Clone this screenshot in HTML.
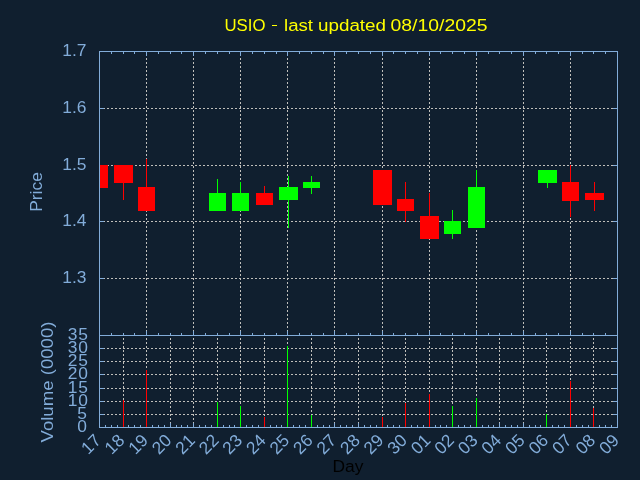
<!DOCTYPE html>
<html><head><meta charset="utf-8"><style>
html,body{margin:0;padding:0;background:#101f2f;width:640px;height:480px;overflow:hidden;}
svg{position:absolute;left:0;top:0;will-change:transform;}
.t{font-family:"Liberation Sans", sans-serif;font-size:17.4px;}
</style></head><body>
<svg width="640" height="480" viewBox="0 0 640 480">
<rect x="0" y="0" width="640" height="480" fill="#101f2f"/>
<g shape-rendering="crispEdges">
<path fill="#c0bfbb" d="M100 108h1v1h-1zM103 108h2v1h-2zM107 108h2v1h-2zM111 108h2v1h-2zM115 108h2v1h-2zM119 108h2v1h-2zM123 108h2v1h-2zM127 108h2v1h-2zM131 108h2v1h-2zM135 108h2v1h-2zM139 108h2v1h-2zM143 108h2v1h-2zM147 108h2v1h-2zM151 108h2v1h-2zM155 108h2v1h-2zM159 108h2v1h-2zM163 108h2v1h-2zM167 108h2v1h-2zM171 108h2v1h-2zM175 108h2v1h-2zM179 108h2v1h-2zM183 108h2v1h-2zM187 108h2v1h-2zM191 108h2v1h-2zM195 108h2v1h-2zM199 108h2v1h-2zM203 108h2v1h-2zM207 108h2v1h-2zM211 108h2v1h-2zM215 108h2v1h-2zM219 108h2v1h-2zM223 108h2v1h-2zM227 108h2v1h-2zM231 108h2v1h-2zM235 108h2v1h-2zM239 108h2v1h-2zM243 108h2v1h-2zM247 108h2v1h-2zM251 108h2v1h-2zM255 108h2v1h-2zM259 108h2v1h-2zM263 108h2v1h-2zM267 108h2v1h-2zM271 108h2v1h-2zM275 108h2v1h-2zM279 108h2v1h-2zM283 108h2v1h-2zM287 108h2v1h-2zM291 108h2v1h-2zM295 108h2v1h-2zM299 108h2v1h-2zM303 108h2v1h-2zM307 108h2v1h-2zM311 108h2v1h-2zM315 108h2v1h-2zM319 108h2v1h-2zM323 108h2v1h-2zM327 108h2v1h-2zM331 108h2v1h-2zM335 108h2v1h-2zM339 108h2v1h-2zM343 108h2v1h-2zM347 108h2v1h-2zM351 108h2v1h-2zM355 108h2v1h-2zM359 108h2v1h-2zM363 108h2v1h-2zM367 108h2v1h-2zM371 108h2v1h-2zM375 108h2v1h-2zM379 108h2v1h-2zM383 108h2v1h-2zM387 108h2v1h-2zM391 108h2v1h-2zM395 108h2v1h-2zM399 108h2v1h-2zM403 108h2v1h-2zM407 108h2v1h-2zM411 108h2v1h-2zM415 108h2v1h-2zM419 108h2v1h-2zM423 108h2v1h-2zM427 108h2v1h-2zM431 108h2v1h-2zM435 108h2v1h-2zM439 108h2v1h-2zM443 108h2v1h-2zM447 108h2v1h-2zM451 108h2v1h-2zM455 108h2v1h-2zM459 108h2v1h-2zM463 108h2v1h-2zM467 108h2v1h-2zM471 108h2v1h-2zM475 108h2v1h-2zM479 108h2v1h-2zM483 108h2v1h-2zM487 108h2v1h-2zM491 108h2v1h-2zM495 108h2v1h-2zM499 108h2v1h-2zM503 108h2v1h-2zM507 108h2v1h-2zM511 108h2v1h-2zM515 108h2v1h-2zM519 108h2v1h-2zM523 108h2v1h-2zM527 108h2v1h-2zM531 108h2v1h-2zM535 108h2v1h-2zM539 108h2v1h-2zM543 108h2v1h-2zM547 108h2v1h-2zM551 108h2v1h-2zM555 108h2v1h-2zM559 108h2v1h-2zM563 108h2v1h-2zM567 108h2v1h-2zM571 108h2v1h-2zM575 108h2v1h-2zM579 108h2v1h-2zM583 108h2v1h-2zM587 108h2v1h-2zM591 108h2v1h-2zM595 108h2v1h-2zM599 108h2v1h-2zM603 108h2v1h-2zM607 108h2v1h-2zM611 108h2v1h-2zM615 108h2v1h-2zM100 165h1v1h-1zM103 165h2v1h-2zM107 165h2v1h-2zM111 165h2v1h-2zM115 165h2v1h-2zM119 165h2v1h-2zM123 165h2v1h-2zM127 165h2v1h-2zM131 165h2v1h-2zM135 165h2v1h-2zM139 165h2v1h-2zM143 165h2v1h-2zM147 165h2v1h-2zM151 165h2v1h-2zM155 165h2v1h-2zM159 165h2v1h-2zM163 165h2v1h-2zM167 165h2v1h-2zM171 165h2v1h-2zM175 165h2v1h-2zM179 165h2v1h-2zM183 165h2v1h-2zM187 165h2v1h-2zM191 165h2v1h-2zM195 165h2v1h-2zM199 165h2v1h-2zM203 165h2v1h-2zM207 165h2v1h-2zM211 165h2v1h-2zM215 165h2v1h-2zM219 165h2v1h-2zM223 165h2v1h-2zM227 165h2v1h-2zM231 165h2v1h-2zM235 165h2v1h-2zM239 165h2v1h-2zM243 165h2v1h-2zM247 165h2v1h-2zM251 165h2v1h-2zM255 165h2v1h-2zM259 165h2v1h-2zM263 165h2v1h-2zM267 165h2v1h-2zM271 165h2v1h-2zM275 165h2v1h-2zM279 165h2v1h-2zM283 165h2v1h-2zM287 165h2v1h-2zM291 165h2v1h-2zM295 165h2v1h-2zM299 165h2v1h-2zM303 165h2v1h-2zM307 165h2v1h-2zM311 165h2v1h-2zM315 165h2v1h-2zM319 165h2v1h-2zM323 165h2v1h-2zM327 165h2v1h-2zM331 165h2v1h-2zM335 165h2v1h-2zM339 165h2v1h-2zM343 165h2v1h-2zM347 165h2v1h-2zM351 165h2v1h-2zM355 165h2v1h-2zM359 165h2v1h-2zM363 165h2v1h-2zM367 165h2v1h-2zM371 165h2v1h-2zM375 165h2v1h-2zM379 165h2v1h-2zM383 165h2v1h-2zM387 165h2v1h-2zM391 165h2v1h-2zM395 165h2v1h-2zM399 165h2v1h-2zM403 165h2v1h-2zM407 165h2v1h-2zM411 165h2v1h-2zM415 165h2v1h-2zM419 165h2v1h-2zM423 165h2v1h-2zM427 165h2v1h-2zM431 165h2v1h-2zM435 165h2v1h-2zM439 165h2v1h-2zM443 165h2v1h-2zM447 165h2v1h-2zM451 165h2v1h-2zM455 165h2v1h-2zM459 165h2v1h-2zM463 165h2v1h-2zM467 165h2v1h-2zM471 165h2v1h-2zM475 165h2v1h-2zM479 165h2v1h-2zM483 165h2v1h-2zM487 165h2v1h-2zM491 165h2v1h-2zM495 165h2v1h-2zM499 165h2v1h-2zM503 165h2v1h-2zM507 165h2v1h-2zM511 165h2v1h-2zM515 165h2v1h-2zM519 165h2v1h-2zM523 165h2v1h-2zM527 165h2v1h-2zM531 165h2v1h-2zM535 165h2v1h-2zM539 165h2v1h-2zM543 165h2v1h-2zM547 165h2v1h-2zM551 165h2v1h-2zM555 165h2v1h-2zM559 165h2v1h-2zM563 165h2v1h-2zM567 165h2v1h-2zM571 165h2v1h-2zM575 165h2v1h-2zM579 165h2v1h-2zM583 165h2v1h-2zM587 165h2v1h-2zM591 165h2v1h-2zM595 165h2v1h-2zM599 165h2v1h-2zM603 165h2v1h-2zM607 165h2v1h-2zM611 165h2v1h-2zM615 165h2v1h-2zM100 221h1v1h-1zM103 221h2v1h-2zM107 221h2v1h-2zM111 221h2v1h-2zM115 221h2v1h-2zM119 221h2v1h-2zM123 221h2v1h-2zM127 221h2v1h-2zM131 221h2v1h-2zM135 221h2v1h-2zM139 221h2v1h-2zM143 221h2v1h-2zM147 221h2v1h-2zM151 221h2v1h-2zM155 221h2v1h-2zM159 221h2v1h-2zM163 221h2v1h-2zM167 221h2v1h-2zM171 221h2v1h-2zM175 221h2v1h-2zM179 221h2v1h-2zM183 221h2v1h-2zM187 221h2v1h-2zM191 221h2v1h-2zM195 221h2v1h-2zM199 221h2v1h-2zM203 221h2v1h-2zM207 221h2v1h-2zM211 221h2v1h-2zM215 221h2v1h-2zM219 221h2v1h-2zM223 221h2v1h-2zM227 221h2v1h-2zM231 221h2v1h-2zM235 221h2v1h-2zM239 221h2v1h-2zM243 221h2v1h-2zM247 221h2v1h-2zM251 221h2v1h-2zM255 221h2v1h-2zM259 221h2v1h-2zM263 221h2v1h-2zM267 221h2v1h-2zM271 221h2v1h-2zM275 221h2v1h-2zM279 221h2v1h-2zM283 221h2v1h-2zM287 221h2v1h-2zM291 221h2v1h-2zM295 221h2v1h-2zM299 221h2v1h-2zM303 221h2v1h-2zM307 221h2v1h-2zM311 221h2v1h-2zM315 221h2v1h-2zM319 221h2v1h-2zM323 221h2v1h-2zM327 221h2v1h-2zM331 221h2v1h-2zM335 221h2v1h-2zM339 221h2v1h-2zM343 221h2v1h-2zM347 221h2v1h-2zM351 221h2v1h-2zM355 221h2v1h-2zM359 221h2v1h-2zM363 221h2v1h-2zM367 221h2v1h-2zM371 221h2v1h-2zM375 221h2v1h-2zM379 221h2v1h-2zM383 221h2v1h-2zM387 221h2v1h-2zM391 221h2v1h-2zM395 221h2v1h-2zM399 221h2v1h-2zM403 221h2v1h-2zM407 221h2v1h-2zM411 221h2v1h-2zM415 221h2v1h-2zM419 221h2v1h-2zM423 221h2v1h-2zM427 221h2v1h-2zM431 221h2v1h-2zM435 221h2v1h-2zM439 221h2v1h-2zM443 221h2v1h-2zM447 221h2v1h-2zM451 221h2v1h-2zM455 221h2v1h-2zM459 221h2v1h-2zM463 221h2v1h-2zM467 221h2v1h-2zM471 221h2v1h-2zM475 221h2v1h-2zM479 221h2v1h-2zM483 221h2v1h-2zM487 221h2v1h-2zM491 221h2v1h-2zM495 221h2v1h-2zM499 221h2v1h-2zM503 221h2v1h-2zM507 221h2v1h-2zM511 221h2v1h-2zM515 221h2v1h-2zM519 221h2v1h-2zM523 221h2v1h-2zM527 221h2v1h-2zM531 221h2v1h-2zM535 221h2v1h-2zM539 221h2v1h-2zM543 221h2v1h-2zM547 221h2v1h-2zM551 221h2v1h-2zM555 221h2v1h-2zM559 221h2v1h-2zM563 221h2v1h-2zM567 221h2v1h-2zM571 221h2v1h-2zM575 221h2v1h-2zM579 221h2v1h-2zM583 221h2v1h-2zM587 221h2v1h-2zM591 221h2v1h-2zM595 221h2v1h-2zM599 221h2v1h-2zM603 221h2v1h-2zM607 221h2v1h-2zM611 221h2v1h-2zM615 221h2v1h-2zM100 278h1v1h-1zM103 278h2v1h-2zM107 278h2v1h-2zM111 278h2v1h-2zM115 278h2v1h-2zM119 278h2v1h-2zM123 278h2v1h-2zM127 278h2v1h-2zM131 278h2v1h-2zM135 278h2v1h-2zM139 278h2v1h-2zM143 278h2v1h-2zM147 278h2v1h-2zM151 278h2v1h-2zM155 278h2v1h-2zM159 278h2v1h-2zM163 278h2v1h-2zM167 278h2v1h-2zM171 278h2v1h-2zM175 278h2v1h-2zM179 278h2v1h-2zM183 278h2v1h-2zM187 278h2v1h-2zM191 278h2v1h-2zM195 278h2v1h-2zM199 278h2v1h-2zM203 278h2v1h-2zM207 278h2v1h-2zM211 278h2v1h-2zM215 278h2v1h-2zM219 278h2v1h-2zM223 278h2v1h-2zM227 278h2v1h-2zM231 278h2v1h-2zM235 278h2v1h-2zM239 278h2v1h-2zM243 278h2v1h-2zM247 278h2v1h-2zM251 278h2v1h-2zM255 278h2v1h-2zM259 278h2v1h-2zM263 278h2v1h-2zM267 278h2v1h-2zM271 278h2v1h-2zM275 278h2v1h-2zM279 278h2v1h-2zM283 278h2v1h-2zM287 278h2v1h-2zM291 278h2v1h-2zM295 278h2v1h-2zM299 278h2v1h-2zM303 278h2v1h-2zM307 278h2v1h-2zM311 278h2v1h-2zM315 278h2v1h-2zM319 278h2v1h-2zM323 278h2v1h-2zM327 278h2v1h-2zM331 278h2v1h-2zM335 278h2v1h-2zM339 278h2v1h-2zM343 278h2v1h-2zM347 278h2v1h-2zM351 278h2v1h-2zM355 278h2v1h-2zM359 278h2v1h-2zM363 278h2v1h-2zM367 278h2v1h-2zM371 278h2v1h-2zM375 278h2v1h-2zM379 278h2v1h-2zM383 278h2v1h-2zM387 278h2v1h-2zM391 278h2v1h-2zM395 278h2v1h-2zM399 278h2v1h-2zM403 278h2v1h-2zM407 278h2v1h-2zM411 278h2v1h-2zM415 278h2v1h-2zM419 278h2v1h-2zM423 278h2v1h-2zM427 278h2v1h-2zM431 278h2v1h-2zM435 278h2v1h-2zM439 278h2v1h-2zM443 278h2v1h-2zM447 278h2v1h-2zM451 278h2v1h-2zM455 278h2v1h-2zM459 278h2v1h-2zM463 278h2v1h-2zM467 278h2v1h-2zM471 278h2v1h-2zM475 278h2v1h-2zM479 278h2v1h-2zM483 278h2v1h-2zM487 278h2v1h-2zM491 278h2v1h-2zM495 278h2v1h-2zM499 278h2v1h-2zM503 278h2v1h-2zM507 278h2v1h-2zM511 278h2v1h-2zM515 278h2v1h-2zM519 278h2v1h-2zM523 278h2v1h-2zM527 278h2v1h-2zM531 278h2v1h-2zM535 278h2v1h-2zM539 278h2v1h-2zM543 278h2v1h-2zM547 278h2v1h-2zM551 278h2v1h-2zM555 278h2v1h-2zM559 278h2v1h-2zM563 278h2v1h-2zM567 278h2v1h-2zM571 278h2v1h-2zM575 278h2v1h-2zM579 278h2v1h-2zM583 278h2v1h-2zM587 278h2v1h-2zM591 278h2v1h-2zM595 278h2v1h-2zM599 278h2v1h-2zM603 278h2v1h-2zM607 278h2v1h-2zM611 278h2v1h-2zM615 278h2v1h-2zM146 54h1v2h-1zM146 58h1v2h-1zM146 62h1v2h-1zM146 66h1v2h-1zM146 70h1v2h-1zM146 74h1v2h-1zM146 78h1v2h-1zM146 82h1v2h-1zM146 86h1v2h-1zM146 90h1v2h-1zM146 94h1v2h-1zM146 98h1v2h-1zM146 102h1v2h-1zM146 106h1v2h-1zM146 110h1v2h-1zM146 114h1v2h-1zM146 118h1v2h-1zM146 122h1v2h-1zM146 126h1v2h-1zM146 130h1v2h-1zM146 134h1v2h-1zM146 138h1v2h-1zM146 142h1v2h-1zM146 146h1v2h-1zM146 150h1v2h-1zM146 154h1v2h-1zM146 158h1v2h-1zM146 162h1v2h-1zM146 166h1v2h-1zM146 170h1v2h-1zM146 174h1v2h-1zM146 178h1v2h-1zM146 182h1v2h-1zM146 186h1v2h-1zM146 190h1v2h-1zM146 194h1v2h-1zM146 198h1v2h-1zM146 202h1v2h-1zM146 206h1v2h-1zM146 210h1v2h-1zM146 214h1v2h-1zM146 218h1v2h-1zM146 222h1v2h-1zM146 226h1v2h-1zM146 230h1v2h-1zM146 234h1v2h-1zM146 238h1v2h-1zM146 242h1v2h-1zM146 246h1v2h-1zM146 250h1v2h-1zM146 254h1v2h-1zM146 258h1v2h-1zM146 262h1v2h-1zM146 266h1v2h-1zM146 270h1v2h-1zM146 274h1v2h-1zM146 278h1v2h-1zM146 282h1v2h-1zM146 286h1v2h-1zM146 290h1v2h-1zM146 294h1v2h-1zM146 298h1v2h-1zM146 302h1v2h-1zM146 306h1v2h-1zM146 310h1v2h-1zM146 314h1v2h-1zM146 318h1v2h-1zM146 322h1v2h-1zM146 326h1v2h-1zM146 330h1v2h-1zM146 334h1v1h-1zM193 54h1v2h-1zM193 58h1v2h-1zM193 62h1v2h-1zM193 66h1v2h-1zM193 70h1v2h-1zM193 74h1v2h-1zM193 78h1v2h-1zM193 82h1v2h-1zM193 86h1v2h-1zM193 90h1v2h-1zM193 94h1v2h-1zM193 98h1v2h-1zM193 102h1v2h-1zM193 106h1v2h-1zM193 110h1v2h-1zM193 114h1v2h-1zM193 118h1v2h-1zM193 122h1v2h-1zM193 126h1v2h-1zM193 130h1v2h-1zM193 134h1v2h-1zM193 138h1v2h-1zM193 142h1v2h-1zM193 146h1v2h-1zM193 150h1v2h-1zM193 154h1v2h-1zM193 158h1v2h-1zM193 162h1v2h-1zM193 166h1v2h-1zM193 170h1v2h-1zM193 174h1v2h-1zM193 178h1v2h-1zM193 182h1v2h-1zM193 186h1v2h-1zM193 190h1v2h-1zM193 194h1v2h-1zM193 198h1v2h-1zM193 202h1v2h-1zM193 206h1v2h-1zM193 210h1v2h-1zM193 214h1v2h-1zM193 218h1v2h-1zM193 222h1v2h-1zM193 226h1v2h-1zM193 230h1v2h-1zM193 234h1v2h-1zM193 238h1v2h-1zM193 242h1v2h-1zM193 246h1v2h-1zM193 250h1v2h-1zM193 254h1v2h-1zM193 258h1v2h-1zM193 262h1v2h-1zM193 266h1v2h-1zM193 270h1v2h-1zM193 274h1v2h-1zM193 278h1v2h-1zM193 282h1v2h-1zM193 286h1v2h-1zM193 290h1v2h-1zM193 294h1v2h-1zM193 298h1v2h-1zM193 302h1v2h-1zM193 306h1v2h-1zM193 310h1v2h-1zM193 314h1v2h-1zM193 318h1v2h-1zM193 322h1v2h-1zM193 326h1v2h-1zM193 330h1v2h-1zM193 334h1v1h-1zM240 54h1v2h-1zM240 58h1v2h-1zM240 62h1v2h-1zM240 66h1v2h-1zM240 70h1v2h-1zM240 74h1v2h-1zM240 78h1v2h-1zM240 82h1v2h-1zM240 86h1v2h-1zM240 90h1v2h-1zM240 94h1v2h-1zM240 98h1v2h-1zM240 102h1v2h-1zM240 106h1v2h-1zM240 110h1v2h-1zM240 114h1v2h-1zM240 118h1v2h-1zM240 122h1v2h-1zM240 126h1v2h-1zM240 130h1v2h-1zM240 134h1v2h-1zM240 138h1v2h-1zM240 142h1v2h-1zM240 146h1v2h-1zM240 150h1v2h-1zM240 154h1v2h-1zM240 158h1v2h-1zM240 162h1v2h-1zM240 166h1v2h-1zM240 170h1v2h-1zM240 174h1v2h-1zM240 178h1v2h-1zM240 182h1v2h-1zM240 186h1v2h-1zM240 190h1v2h-1zM240 194h1v2h-1zM240 198h1v2h-1zM240 202h1v2h-1zM240 206h1v2h-1zM240 210h1v2h-1zM240 214h1v2h-1zM240 218h1v2h-1zM240 222h1v2h-1zM240 226h1v2h-1zM240 230h1v2h-1zM240 234h1v2h-1zM240 238h1v2h-1zM240 242h1v2h-1zM240 246h1v2h-1zM240 250h1v2h-1zM240 254h1v2h-1zM240 258h1v2h-1zM240 262h1v2h-1zM240 266h1v2h-1zM240 270h1v2h-1zM240 274h1v2h-1zM240 278h1v2h-1zM240 282h1v2h-1zM240 286h1v2h-1zM240 290h1v2h-1zM240 294h1v2h-1zM240 298h1v2h-1zM240 302h1v2h-1zM240 306h1v2h-1zM240 310h1v2h-1zM240 314h1v2h-1zM240 318h1v2h-1zM240 322h1v2h-1zM240 326h1v2h-1zM240 330h1v2h-1zM240 334h1v1h-1zM287 54h1v2h-1zM287 58h1v2h-1zM287 62h1v2h-1zM287 66h1v2h-1zM287 70h1v2h-1zM287 74h1v2h-1zM287 78h1v2h-1zM287 82h1v2h-1zM287 86h1v2h-1zM287 90h1v2h-1zM287 94h1v2h-1zM287 98h1v2h-1zM287 102h1v2h-1zM287 106h1v2h-1zM287 110h1v2h-1zM287 114h1v2h-1zM287 118h1v2h-1zM287 122h1v2h-1zM287 126h1v2h-1zM287 130h1v2h-1zM287 134h1v2h-1zM287 138h1v2h-1zM287 142h1v2h-1zM287 146h1v2h-1zM287 150h1v2h-1zM287 154h1v2h-1zM287 158h1v2h-1zM287 162h1v2h-1zM287 166h1v2h-1zM287 170h1v2h-1zM287 174h1v2h-1zM287 178h1v2h-1zM287 182h1v2h-1zM287 186h1v2h-1zM287 190h1v2h-1zM287 194h1v2h-1zM287 198h1v2h-1zM287 202h1v2h-1zM287 206h1v2h-1zM287 210h1v2h-1zM287 214h1v2h-1zM287 218h1v2h-1zM287 222h1v2h-1zM287 226h1v2h-1zM287 230h1v2h-1zM287 234h1v2h-1zM287 238h1v2h-1zM287 242h1v2h-1zM287 246h1v2h-1zM287 250h1v2h-1zM287 254h1v2h-1zM287 258h1v2h-1zM287 262h1v2h-1zM287 266h1v2h-1zM287 270h1v2h-1zM287 274h1v2h-1zM287 278h1v2h-1zM287 282h1v2h-1zM287 286h1v2h-1zM287 290h1v2h-1zM287 294h1v2h-1zM287 298h1v2h-1zM287 302h1v2h-1zM287 306h1v2h-1zM287 310h1v2h-1zM287 314h1v2h-1zM287 318h1v2h-1zM287 322h1v2h-1zM287 326h1v2h-1zM287 330h1v2h-1zM287 334h1v1h-1zM334 54h1v2h-1zM334 58h1v2h-1zM334 62h1v2h-1zM334 66h1v2h-1zM334 70h1v2h-1zM334 74h1v2h-1zM334 78h1v2h-1zM334 82h1v2h-1zM334 86h1v2h-1zM334 90h1v2h-1zM334 94h1v2h-1zM334 98h1v2h-1zM334 102h1v2h-1zM334 106h1v2h-1zM334 110h1v2h-1zM334 114h1v2h-1zM334 118h1v2h-1zM334 122h1v2h-1zM334 126h1v2h-1zM334 130h1v2h-1zM334 134h1v2h-1zM334 138h1v2h-1zM334 142h1v2h-1zM334 146h1v2h-1zM334 150h1v2h-1zM334 154h1v2h-1zM334 158h1v2h-1zM334 162h1v2h-1zM334 166h1v2h-1zM334 170h1v2h-1zM334 174h1v2h-1zM334 178h1v2h-1zM334 182h1v2h-1zM334 186h1v2h-1zM334 190h1v2h-1zM334 194h1v2h-1zM334 198h1v2h-1zM334 202h1v2h-1zM334 206h1v2h-1zM334 210h1v2h-1zM334 214h1v2h-1zM334 218h1v2h-1zM334 222h1v2h-1zM334 226h1v2h-1zM334 230h1v2h-1zM334 234h1v2h-1zM334 238h1v2h-1zM334 242h1v2h-1zM334 246h1v2h-1zM334 250h1v2h-1zM334 254h1v2h-1zM334 258h1v2h-1zM334 262h1v2h-1zM334 266h1v2h-1zM334 270h1v2h-1zM334 274h1v2h-1zM334 278h1v2h-1zM334 282h1v2h-1zM334 286h1v2h-1zM334 290h1v2h-1zM334 294h1v2h-1zM334 298h1v2h-1zM334 302h1v2h-1zM334 306h1v2h-1zM334 310h1v2h-1zM334 314h1v2h-1zM334 318h1v2h-1zM334 322h1v2h-1zM334 326h1v2h-1zM334 330h1v2h-1zM334 334h1v1h-1zM382 54h1v2h-1zM382 58h1v2h-1zM382 62h1v2h-1zM382 66h1v2h-1zM382 70h1v2h-1zM382 74h1v2h-1zM382 78h1v2h-1zM382 82h1v2h-1zM382 86h1v2h-1zM382 90h1v2h-1zM382 94h1v2h-1zM382 98h1v2h-1zM382 102h1v2h-1zM382 106h1v2h-1zM382 110h1v2h-1zM382 114h1v2h-1zM382 118h1v2h-1zM382 122h1v2h-1zM382 126h1v2h-1zM382 130h1v2h-1zM382 134h1v2h-1zM382 138h1v2h-1zM382 142h1v2h-1zM382 146h1v2h-1zM382 150h1v2h-1zM382 154h1v2h-1zM382 158h1v2h-1zM382 162h1v2h-1zM382 166h1v2h-1zM382 170h1v2h-1zM382 174h1v2h-1zM382 178h1v2h-1zM382 182h1v2h-1zM382 186h1v2h-1zM382 190h1v2h-1zM382 194h1v2h-1zM382 198h1v2h-1zM382 202h1v2h-1zM382 206h1v2h-1zM382 210h1v2h-1zM382 214h1v2h-1zM382 218h1v2h-1zM382 222h1v2h-1zM382 226h1v2h-1zM382 230h1v2h-1zM382 234h1v2h-1zM382 238h1v2h-1zM382 242h1v2h-1zM382 246h1v2h-1zM382 250h1v2h-1zM382 254h1v2h-1zM382 258h1v2h-1zM382 262h1v2h-1zM382 266h1v2h-1zM382 270h1v2h-1zM382 274h1v2h-1zM382 278h1v2h-1zM382 282h1v2h-1zM382 286h1v2h-1zM382 290h1v2h-1zM382 294h1v2h-1zM382 298h1v2h-1zM382 302h1v2h-1zM382 306h1v2h-1zM382 310h1v2h-1zM382 314h1v2h-1zM382 318h1v2h-1zM382 322h1v2h-1zM382 326h1v2h-1zM382 330h1v2h-1zM382 334h1v1h-1zM429 54h1v2h-1zM429 58h1v2h-1zM429 62h1v2h-1zM429 66h1v2h-1zM429 70h1v2h-1zM429 74h1v2h-1zM429 78h1v2h-1zM429 82h1v2h-1zM429 86h1v2h-1zM429 90h1v2h-1zM429 94h1v2h-1zM429 98h1v2h-1zM429 102h1v2h-1zM429 106h1v2h-1zM429 110h1v2h-1zM429 114h1v2h-1zM429 118h1v2h-1zM429 122h1v2h-1zM429 126h1v2h-1zM429 130h1v2h-1zM429 134h1v2h-1zM429 138h1v2h-1zM429 142h1v2h-1zM429 146h1v2h-1zM429 150h1v2h-1zM429 154h1v2h-1zM429 158h1v2h-1zM429 162h1v2h-1zM429 166h1v2h-1zM429 170h1v2h-1zM429 174h1v2h-1zM429 178h1v2h-1zM429 182h1v2h-1zM429 186h1v2h-1zM429 190h1v2h-1zM429 194h1v2h-1zM429 198h1v2h-1zM429 202h1v2h-1zM429 206h1v2h-1zM429 210h1v2h-1zM429 214h1v2h-1zM429 218h1v2h-1zM429 222h1v2h-1zM429 226h1v2h-1zM429 230h1v2h-1zM429 234h1v2h-1zM429 238h1v2h-1zM429 242h1v2h-1zM429 246h1v2h-1zM429 250h1v2h-1zM429 254h1v2h-1zM429 258h1v2h-1zM429 262h1v2h-1zM429 266h1v2h-1zM429 270h1v2h-1zM429 274h1v2h-1zM429 278h1v2h-1zM429 282h1v2h-1zM429 286h1v2h-1zM429 290h1v2h-1zM429 294h1v2h-1zM429 298h1v2h-1zM429 302h1v2h-1zM429 306h1v2h-1zM429 310h1v2h-1zM429 314h1v2h-1zM429 318h1v2h-1zM429 322h1v2h-1zM429 326h1v2h-1zM429 330h1v2h-1zM429 334h1v1h-1zM476 54h1v2h-1zM476 58h1v2h-1zM476 62h1v2h-1zM476 66h1v2h-1zM476 70h1v2h-1zM476 74h1v2h-1zM476 78h1v2h-1zM476 82h1v2h-1zM476 86h1v2h-1zM476 90h1v2h-1zM476 94h1v2h-1zM476 98h1v2h-1zM476 102h1v2h-1zM476 106h1v2h-1zM476 110h1v2h-1zM476 114h1v2h-1zM476 118h1v2h-1zM476 122h1v2h-1zM476 126h1v2h-1zM476 130h1v2h-1zM476 134h1v2h-1zM476 138h1v2h-1zM476 142h1v2h-1zM476 146h1v2h-1zM476 150h1v2h-1zM476 154h1v2h-1zM476 158h1v2h-1zM476 162h1v2h-1zM476 166h1v2h-1zM476 170h1v2h-1zM476 174h1v2h-1zM476 178h1v2h-1zM476 182h1v2h-1zM476 186h1v2h-1zM476 190h1v2h-1zM476 194h1v2h-1zM476 198h1v2h-1zM476 202h1v2h-1zM476 206h1v2h-1zM476 210h1v2h-1zM476 214h1v2h-1zM476 218h1v2h-1zM476 222h1v2h-1zM476 226h1v2h-1zM476 230h1v2h-1zM476 234h1v2h-1zM476 238h1v2h-1zM476 242h1v2h-1zM476 246h1v2h-1zM476 250h1v2h-1zM476 254h1v2h-1zM476 258h1v2h-1zM476 262h1v2h-1zM476 266h1v2h-1zM476 270h1v2h-1zM476 274h1v2h-1zM476 278h1v2h-1zM476 282h1v2h-1zM476 286h1v2h-1zM476 290h1v2h-1zM476 294h1v2h-1zM476 298h1v2h-1zM476 302h1v2h-1zM476 306h1v2h-1zM476 310h1v2h-1zM476 314h1v2h-1zM476 318h1v2h-1zM476 322h1v2h-1zM476 326h1v2h-1zM476 330h1v2h-1zM476 334h1v1h-1zM523 54h1v2h-1zM523 58h1v2h-1zM523 62h1v2h-1zM523 66h1v2h-1zM523 70h1v2h-1zM523 74h1v2h-1zM523 78h1v2h-1zM523 82h1v2h-1zM523 86h1v2h-1zM523 90h1v2h-1zM523 94h1v2h-1zM523 98h1v2h-1zM523 102h1v2h-1zM523 106h1v2h-1zM523 110h1v2h-1zM523 114h1v2h-1zM523 118h1v2h-1zM523 122h1v2h-1zM523 126h1v2h-1zM523 130h1v2h-1zM523 134h1v2h-1zM523 138h1v2h-1zM523 142h1v2h-1zM523 146h1v2h-1zM523 150h1v2h-1zM523 154h1v2h-1zM523 158h1v2h-1zM523 162h1v2h-1zM523 166h1v2h-1zM523 170h1v2h-1zM523 174h1v2h-1zM523 178h1v2h-1zM523 182h1v2h-1zM523 186h1v2h-1zM523 190h1v2h-1zM523 194h1v2h-1zM523 198h1v2h-1zM523 202h1v2h-1zM523 206h1v2h-1zM523 210h1v2h-1zM523 214h1v2h-1zM523 218h1v2h-1zM523 222h1v2h-1zM523 226h1v2h-1zM523 230h1v2h-1zM523 234h1v2h-1zM523 238h1v2h-1zM523 242h1v2h-1zM523 246h1v2h-1zM523 250h1v2h-1zM523 254h1v2h-1zM523 258h1v2h-1zM523 262h1v2h-1zM523 266h1v2h-1zM523 270h1v2h-1zM523 274h1v2h-1zM523 278h1v2h-1zM523 282h1v2h-1zM523 286h1v2h-1zM523 290h1v2h-1zM523 294h1v2h-1zM523 298h1v2h-1zM523 302h1v2h-1zM523 306h1v2h-1zM523 310h1v2h-1zM523 314h1v2h-1zM523 318h1v2h-1zM523 322h1v2h-1zM523 326h1v2h-1zM523 330h1v2h-1zM523 334h1v1h-1zM570 54h1v2h-1zM570 58h1v2h-1zM570 62h1v2h-1zM570 66h1v2h-1zM570 70h1v2h-1zM570 74h1v2h-1zM570 78h1v2h-1zM570 82h1v2h-1zM570 86h1v2h-1zM570 90h1v2h-1zM570 94h1v2h-1zM570 98h1v2h-1zM570 102h1v2h-1zM570 106h1v2h-1zM570 110h1v2h-1zM570 114h1v2h-1zM570 118h1v2h-1zM570 122h1v2h-1zM570 126h1v2h-1zM570 130h1v2h-1zM570 134h1v2h-1zM570 138h1v2h-1zM570 142h1v2h-1zM570 146h1v2h-1zM570 150h1v2h-1zM570 154h1v2h-1zM570 158h1v2h-1zM570 162h1v2h-1zM570 166h1v2h-1zM570 170h1v2h-1zM570 174h1v2h-1zM570 178h1v2h-1zM570 182h1v2h-1zM570 186h1v2h-1zM570 190h1v2h-1zM570 194h1v2h-1zM570 198h1v2h-1zM570 202h1v2h-1zM570 206h1v2h-1zM570 210h1v2h-1zM570 214h1v2h-1zM570 218h1v2h-1zM570 222h1v2h-1zM570 226h1v2h-1zM570 230h1v2h-1zM570 234h1v2h-1zM570 238h1v2h-1zM570 242h1v2h-1zM570 246h1v2h-1zM570 250h1v2h-1zM570 254h1v2h-1zM570 258h1v2h-1zM570 262h1v2h-1zM570 266h1v2h-1zM570 270h1v2h-1zM570 274h1v2h-1zM570 278h1v2h-1zM570 282h1v2h-1zM570 286h1v2h-1zM570 290h1v2h-1zM570 294h1v2h-1zM570 298h1v2h-1zM570 302h1v2h-1zM570 306h1v2h-1zM570 310h1v2h-1zM570 314h1v2h-1zM570 318h1v2h-1zM570 322h1v2h-1zM570 326h1v2h-1zM570 330h1v2h-1zM570 334h1v1h-1zM100 414h1v1h-1zM103 414h2v1h-2zM107 414h2v1h-2zM111 414h2v1h-2zM115 414h2v1h-2zM119 414h2v1h-2zM123 414h2v1h-2zM127 414h2v1h-2zM131 414h2v1h-2zM135 414h2v1h-2zM139 414h2v1h-2zM143 414h2v1h-2zM147 414h2v1h-2zM151 414h2v1h-2zM155 414h2v1h-2zM159 414h2v1h-2zM163 414h2v1h-2zM167 414h2v1h-2zM171 414h2v1h-2zM175 414h2v1h-2zM179 414h2v1h-2zM183 414h2v1h-2zM187 414h2v1h-2zM191 414h2v1h-2zM195 414h2v1h-2zM199 414h2v1h-2zM203 414h2v1h-2zM207 414h2v1h-2zM211 414h2v1h-2zM215 414h2v1h-2zM219 414h2v1h-2zM223 414h2v1h-2zM227 414h2v1h-2zM231 414h2v1h-2zM235 414h2v1h-2zM239 414h2v1h-2zM243 414h2v1h-2zM247 414h2v1h-2zM251 414h2v1h-2zM255 414h2v1h-2zM259 414h2v1h-2zM263 414h2v1h-2zM267 414h2v1h-2zM271 414h2v1h-2zM275 414h2v1h-2zM279 414h2v1h-2zM283 414h2v1h-2zM287 414h2v1h-2zM291 414h2v1h-2zM295 414h2v1h-2zM299 414h2v1h-2zM303 414h2v1h-2zM307 414h2v1h-2zM311 414h2v1h-2zM315 414h2v1h-2zM319 414h2v1h-2zM323 414h2v1h-2zM327 414h2v1h-2zM331 414h2v1h-2zM335 414h2v1h-2zM339 414h2v1h-2zM343 414h2v1h-2zM347 414h2v1h-2zM351 414h2v1h-2zM355 414h2v1h-2zM359 414h2v1h-2zM363 414h2v1h-2zM367 414h2v1h-2zM371 414h2v1h-2zM375 414h2v1h-2zM379 414h2v1h-2zM383 414h2v1h-2zM387 414h2v1h-2zM391 414h2v1h-2zM395 414h2v1h-2zM399 414h2v1h-2zM403 414h2v1h-2zM407 414h2v1h-2zM411 414h2v1h-2zM415 414h2v1h-2zM419 414h2v1h-2zM423 414h2v1h-2zM427 414h2v1h-2zM431 414h2v1h-2zM435 414h2v1h-2zM439 414h2v1h-2zM443 414h2v1h-2zM447 414h2v1h-2zM451 414h2v1h-2zM455 414h2v1h-2zM459 414h2v1h-2zM463 414h2v1h-2zM467 414h2v1h-2zM471 414h2v1h-2zM475 414h2v1h-2zM479 414h2v1h-2zM483 414h2v1h-2zM487 414h2v1h-2zM491 414h2v1h-2zM495 414h2v1h-2zM499 414h2v1h-2zM503 414h2v1h-2zM507 414h2v1h-2zM511 414h2v1h-2zM515 414h2v1h-2zM519 414h2v1h-2zM523 414h2v1h-2zM527 414h2v1h-2zM531 414h2v1h-2zM535 414h2v1h-2zM539 414h2v1h-2zM543 414h2v1h-2zM547 414h2v1h-2zM551 414h2v1h-2zM555 414h2v1h-2zM559 414h2v1h-2zM563 414h2v1h-2zM567 414h2v1h-2zM571 414h2v1h-2zM575 414h2v1h-2zM579 414h2v1h-2zM583 414h2v1h-2zM587 414h2v1h-2zM591 414h2v1h-2zM595 414h2v1h-2zM599 414h2v1h-2zM603 414h2v1h-2zM607 414h2v1h-2zM611 414h2v1h-2zM615 414h2v1h-2zM100 401h1v1h-1zM103 401h2v1h-2zM107 401h2v1h-2zM111 401h2v1h-2zM115 401h2v1h-2zM119 401h2v1h-2zM123 401h2v1h-2zM127 401h2v1h-2zM131 401h2v1h-2zM135 401h2v1h-2zM139 401h2v1h-2zM143 401h2v1h-2zM147 401h2v1h-2zM151 401h2v1h-2zM155 401h2v1h-2zM159 401h2v1h-2zM163 401h2v1h-2zM167 401h2v1h-2zM171 401h2v1h-2zM175 401h2v1h-2zM179 401h2v1h-2zM183 401h2v1h-2zM187 401h2v1h-2zM191 401h2v1h-2zM195 401h2v1h-2zM199 401h2v1h-2zM203 401h2v1h-2zM207 401h2v1h-2zM211 401h2v1h-2zM215 401h2v1h-2zM219 401h2v1h-2zM223 401h2v1h-2zM227 401h2v1h-2zM231 401h2v1h-2zM235 401h2v1h-2zM239 401h2v1h-2zM243 401h2v1h-2zM247 401h2v1h-2zM251 401h2v1h-2zM255 401h2v1h-2zM259 401h2v1h-2zM263 401h2v1h-2zM267 401h2v1h-2zM271 401h2v1h-2zM275 401h2v1h-2zM279 401h2v1h-2zM283 401h2v1h-2zM287 401h2v1h-2zM291 401h2v1h-2zM295 401h2v1h-2zM299 401h2v1h-2zM303 401h2v1h-2zM307 401h2v1h-2zM311 401h2v1h-2zM315 401h2v1h-2zM319 401h2v1h-2zM323 401h2v1h-2zM327 401h2v1h-2zM331 401h2v1h-2zM335 401h2v1h-2zM339 401h2v1h-2zM343 401h2v1h-2zM347 401h2v1h-2zM351 401h2v1h-2zM355 401h2v1h-2zM359 401h2v1h-2zM363 401h2v1h-2zM367 401h2v1h-2zM371 401h2v1h-2zM375 401h2v1h-2zM379 401h2v1h-2zM383 401h2v1h-2zM387 401h2v1h-2zM391 401h2v1h-2zM395 401h2v1h-2zM399 401h2v1h-2zM403 401h2v1h-2zM407 401h2v1h-2zM411 401h2v1h-2zM415 401h2v1h-2zM419 401h2v1h-2zM423 401h2v1h-2zM427 401h2v1h-2zM431 401h2v1h-2zM435 401h2v1h-2zM439 401h2v1h-2zM443 401h2v1h-2zM447 401h2v1h-2zM451 401h2v1h-2zM455 401h2v1h-2zM459 401h2v1h-2zM463 401h2v1h-2zM467 401h2v1h-2zM471 401h2v1h-2zM475 401h2v1h-2zM479 401h2v1h-2zM483 401h2v1h-2zM487 401h2v1h-2zM491 401h2v1h-2zM495 401h2v1h-2zM499 401h2v1h-2zM503 401h2v1h-2zM507 401h2v1h-2zM511 401h2v1h-2zM515 401h2v1h-2zM519 401h2v1h-2zM523 401h2v1h-2zM527 401h2v1h-2zM531 401h2v1h-2zM535 401h2v1h-2zM539 401h2v1h-2zM543 401h2v1h-2zM547 401h2v1h-2zM551 401h2v1h-2zM555 401h2v1h-2zM559 401h2v1h-2zM563 401h2v1h-2zM567 401h2v1h-2zM571 401h2v1h-2zM575 401h2v1h-2zM579 401h2v1h-2zM583 401h2v1h-2zM587 401h2v1h-2zM591 401h2v1h-2zM595 401h2v1h-2zM599 401h2v1h-2zM603 401h2v1h-2zM607 401h2v1h-2zM611 401h2v1h-2zM615 401h2v1h-2zM100 388h1v1h-1zM103 388h2v1h-2zM107 388h2v1h-2zM111 388h2v1h-2zM115 388h2v1h-2zM119 388h2v1h-2zM123 388h2v1h-2zM127 388h2v1h-2zM131 388h2v1h-2zM135 388h2v1h-2zM139 388h2v1h-2zM143 388h2v1h-2zM147 388h2v1h-2zM151 388h2v1h-2zM155 388h2v1h-2zM159 388h2v1h-2zM163 388h2v1h-2zM167 388h2v1h-2zM171 388h2v1h-2zM175 388h2v1h-2zM179 388h2v1h-2zM183 388h2v1h-2zM187 388h2v1h-2zM191 388h2v1h-2zM195 388h2v1h-2zM199 388h2v1h-2zM203 388h2v1h-2zM207 388h2v1h-2zM211 388h2v1h-2zM215 388h2v1h-2zM219 388h2v1h-2zM223 388h2v1h-2zM227 388h2v1h-2zM231 388h2v1h-2zM235 388h2v1h-2zM239 388h2v1h-2zM243 388h2v1h-2zM247 388h2v1h-2zM251 388h2v1h-2zM255 388h2v1h-2zM259 388h2v1h-2zM263 388h2v1h-2zM267 388h2v1h-2zM271 388h2v1h-2zM275 388h2v1h-2zM279 388h2v1h-2zM283 388h2v1h-2zM287 388h2v1h-2zM291 388h2v1h-2zM295 388h2v1h-2zM299 388h2v1h-2zM303 388h2v1h-2zM307 388h2v1h-2zM311 388h2v1h-2zM315 388h2v1h-2zM319 388h2v1h-2zM323 388h2v1h-2zM327 388h2v1h-2zM331 388h2v1h-2zM335 388h2v1h-2zM339 388h2v1h-2zM343 388h2v1h-2zM347 388h2v1h-2zM351 388h2v1h-2zM355 388h2v1h-2zM359 388h2v1h-2zM363 388h2v1h-2zM367 388h2v1h-2zM371 388h2v1h-2zM375 388h2v1h-2zM379 388h2v1h-2zM383 388h2v1h-2zM387 388h2v1h-2zM391 388h2v1h-2zM395 388h2v1h-2zM399 388h2v1h-2zM403 388h2v1h-2zM407 388h2v1h-2zM411 388h2v1h-2zM415 388h2v1h-2zM419 388h2v1h-2zM423 388h2v1h-2zM427 388h2v1h-2zM431 388h2v1h-2zM435 388h2v1h-2zM439 388h2v1h-2zM443 388h2v1h-2zM447 388h2v1h-2zM451 388h2v1h-2zM455 388h2v1h-2zM459 388h2v1h-2zM463 388h2v1h-2zM467 388h2v1h-2zM471 388h2v1h-2zM475 388h2v1h-2zM479 388h2v1h-2zM483 388h2v1h-2zM487 388h2v1h-2zM491 388h2v1h-2zM495 388h2v1h-2zM499 388h2v1h-2zM503 388h2v1h-2zM507 388h2v1h-2zM511 388h2v1h-2zM515 388h2v1h-2zM519 388h2v1h-2zM523 388h2v1h-2zM527 388h2v1h-2zM531 388h2v1h-2zM535 388h2v1h-2zM539 388h2v1h-2zM543 388h2v1h-2zM547 388h2v1h-2zM551 388h2v1h-2zM555 388h2v1h-2zM559 388h2v1h-2zM563 388h2v1h-2zM567 388h2v1h-2zM571 388h2v1h-2zM575 388h2v1h-2zM579 388h2v1h-2zM583 388h2v1h-2zM587 388h2v1h-2zM591 388h2v1h-2zM595 388h2v1h-2zM599 388h2v1h-2zM603 388h2v1h-2zM607 388h2v1h-2zM611 388h2v1h-2zM615 388h2v1h-2zM100 374h1v1h-1zM103 374h2v1h-2zM107 374h2v1h-2zM111 374h2v1h-2zM115 374h2v1h-2zM119 374h2v1h-2zM123 374h2v1h-2zM127 374h2v1h-2zM131 374h2v1h-2zM135 374h2v1h-2zM139 374h2v1h-2zM143 374h2v1h-2zM147 374h2v1h-2zM151 374h2v1h-2zM155 374h2v1h-2zM159 374h2v1h-2zM163 374h2v1h-2zM167 374h2v1h-2zM171 374h2v1h-2zM175 374h2v1h-2zM179 374h2v1h-2zM183 374h2v1h-2zM187 374h2v1h-2zM191 374h2v1h-2zM195 374h2v1h-2zM199 374h2v1h-2zM203 374h2v1h-2zM207 374h2v1h-2zM211 374h2v1h-2zM215 374h2v1h-2zM219 374h2v1h-2zM223 374h2v1h-2zM227 374h2v1h-2zM231 374h2v1h-2zM235 374h2v1h-2zM239 374h2v1h-2zM243 374h2v1h-2zM247 374h2v1h-2zM251 374h2v1h-2zM255 374h2v1h-2zM259 374h2v1h-2zM263 374h2v1h-2zM267 374h2v1h-2zM271 374h2v1h-2zM275 374h2v1h-2zM279 374h2v1h-2zM283 374h2v1h-2zM287 374h2v1h-2zM291 374h2v1h-2zM295 374h2v1h-2zM299 374h2v1h-2zM303 374h2v1h-2zM307 374h2v1h-2zM311 374h2v1h-2zM315 374h2v1h-2zM319 374h2v1h-2zM323 374h2v1h-2zM327 374h2v1h-2zM331 374h2v1h-2zM335 374h2v1h-2zM339 374h2v1h-2zM343 374h2v1h-2zM347 374h2v1h-2zM351 374h2v1h-2zM355 374h2v1h-2zM359 374h2v1h-2zM363 374h2v1h-2zM367 374h2v1h-2zM371 374h2v1h-2zM375 374h2v1h-2zM379 374h2v1h-2zM383 374h2v1h-2zM387 374h2v1h-2zM391 374h2v1h-2zM395 374h2v1h-2zM399 374h2v1h-2zM403 374h2v1h-2zM407 374h2v1h-2zM411 374h2v1h-2zM415 374h2v1h-2zM419 374h2v1h-2zM423 374h2v1h-2zM427 374h2v1h-2zM431 374h2v1h-2zM435 374h2v1h-2zM439 374h2v1h-2zM443 374h2v1h-2zM447 374h2v1h-2zM451 374h2v1h-2zM455 374h2v1h-2zM459 374h2v1h-2zM463 374h2v1h-2zM467 374h2v1h-2zM471 374h2v1h-2zM475 374h2v1h-2zM479 374h2v1h-2zM483 374h2v1h-2zM487 374h2v1h-2zM491 374h2v1h-2zM495 374h2v1h-2zM499 374h2v1h-2zM503 374h2v1h-2zM507 374h2v1h-2zM511 374h2v1h-2zM515 374h2v1h-2zM519 374h2v1h-2zM523 374h2v1h-2zM527 374h2v1h-2zM531 374h2v1h-2zM535 374h2v1h-2zM539 374h2v1h-2zM543 374h2v1h-2zM547 374h2v1h-2zM551 374h2v1h-2zM555 374h2v1h-2zM559 374h2v1h-2zM563 374h2v1h-2zM567 374h2v1h-2zM571 374h2v1h-2zM575 374h2v1h-2zM579 374h2v1h-2zM583 374h2v1h-2zM587 374h2v1h-2zM591 374h2v1h-2zM595 374h2v1h-2zM599 374h2v1h-2zM603 374h2v1h-2zM607 374h2v1h-2zM611 374h2v1h-2zM615 374h2v1h-2zM100 361h1v1h-1zM103 361h2v1h-2zM107 361h2v1h-2zM111 361h2v1h-2zM115 361h2v1h-2zM119 361h2v1h-2zM123 361h2v1h-2zM127 361h2v1h-2zM131 361h2v1h-2zM135 361h2v1h-2zM139 361h2v1h-2zM143 361h2v1h-2zM147 361h2v1h-2zM151 361h2v1h-2zM155 361h2v1h-2zM159 361h2v1h-2zM163 361h2v1h-2zM167 361h2v1h-2zM171 361h2v1h-2zM175 361h2v1h-2zM179 361h2v1h-2zM183 361h2v1h-2zM187 361h2v1h-2zM191 361h2v1h-2zM195 361h2v1h-2zM199 361h2v1h-2zM203 361h2v1h-2zM207 361h2v1h-2zM211 361h2v1h-2zM215 361h2v1h-2zM219 361h2v1h-2zM223 361h2v1h-2zM227 361h2v1h-2zM231 361h2v1h-2zM235 361h2v1h-2zM239 361h2v1h-2zM243 361h2v1h-2zM247 361h2v1h-2zM251 361h2v1h-2zM255 361h2v1h-2zM259 361h2v1h-2zM263 361h2v1h-2zM267 361h2v1h-2zM271 361h2v1h-2zM275 361h2v1h-2zM279 361h2v1h-2zM283 361h2v1h-2zM287 361h2v1h-2zM291 361h2v1h-2zM295 361h2v1h-2zM299 361h2v1h-2zM303 361h2v1h-2zM307 361h2v1h-2zM311 361h2v1h-2zM315 361h2v1h-2zM319 361h2v1h-2zM323 361h2v1h-2zM327 361h2v1h-2zM331 361h2v1h-2zM335 361h2v1h-2zM339 361h2v1h-2zM343 361h2v1h-2zM347 361h2v1h-2zM351 361h2v1h-2zM355 361h2v1h-2zM359 361h2v1h-2zM363 361h2v1h-2zM367 361h2v1h-2zM371 361h2v1h-2zM375 361h2v1h-2zM379 361h2v1h-2zM383 361h2v1h-2zM387 361h2v1h-2zM391 361h2v1h-2zM395 361h2v1h-2zM399 361h2v1h-2zM403 361h2v1h-2zM407 361h2v1h-2zM411 361h2v1h-2zM415 361h2v1h-2zM419 361h2v1h-2zM423 361h2v1h-2zM427 361h2v1h-2zM431 361h2v1h-2zM435 361h2v1h-2zM439 361h2v1h-2zM443 361h2v1h-2zM447 361h2v1h-2zM451 361h2v1h-2zM455 361h2v1h-2zM459 361h2v1h-2zM463 361h2v1h-2zM467 361h2v1h-2zM471 361h2v1h-2zM475 361h2v1h-2zM479 361h2v1h-2zM483 361h2v1h-2zM487 361h2v1h-2zM491 361h2v1h-2zM495 361h2v1h-2zM499 361h2v1h-2zM503 361h2v1h-2zM507 361h2v1h-2zM511 361h2v1h-2zM515 361h2v1h-2zM519 361h2v1h-2zM523 361h2v1h-2zM527 361h2v1h-2zM531 361h2v1h-2zM535 361h2v1h-2zM539 361h2v1h-2zM543 361h2v1h-2zM547 361h2v1h-2zM551 361h2v1h-2zM555 361h2v1h-2zM559 361h2v1h-2zM563 361h2v1h-2zM567 361h2v1h-2zM571 361h2v1h-2zM575 361h2v1h-2zM579 361h2v1h-2zM583 361h2v1h-2zM587 361h2v1h-2zM591 361h2v1h-2zM595 361h2v1h-2zM599 361h2v1h-2zM603 361h2v1h-2zM607 361h2v1h-2zM611 361h2v1h-2zM615 361h2v1h-2zM100 348h1v1h-1zM103 348h2v1h-2zM107 348h2v1h-2zM111 348h2v1h-2zM115 348h2v1h-2zM119 348h2v1h-2zM123 348h2v1h-2zM127 348h2v1h-2zM131 348h2v1h-2zM135 348h2v1h-2zM139 348h2v1h-2zM143 348h2v1h-2zM147 348h2v1h-2zM151 348h2v1h-2zM155 348h2v1h-2zM159 348h2v1h-2zM163 348h2v1h-2zM167 348h2v1h-2zM171 348h2v1h-2zM175 348h2v1h-2zM179 348h2v1h-2zM183 348h2v1h-2zM187 348h2v1h-2zM191 348h2v1h-2zM195 348h2v1h-2zM199 348h2v1h-2zM203 348h2v1h-2zM207 348h2v1h-2zM211 348h2v1h-2zM215 348h2v1h-2zM219 348h2v1h-2zM223 348h2v1h-2zM227 348h2v1h-2zM231 348h2v1h-2zM235 348h2v1h-2zM239 348h2v1h-2zM243 348h2v1h-2zM247 348h2v1h-2zM251 348h2v1h-2zM255 348h2v1h-2zM259 348h2v1h-2zM263 348h2v1h-2zM267 348h2v1h-2zM271 348h2v1h-2zM275 348h2v1h-2zM279 348h2v1h-2zM283 348h2v1h-2zM287 348h2v1h-2zM291 348h2v1h-2zM295 348h2v1h-2zM299 348h2v1h-2zM303 348h2v1h-2zM307 348h2v1h-2zM311 348h2v1h-2zM315 348h2v1h-2zM319 348h2v1h-2zM323 348h2v1h-2zM327 348h2v1h-2zM331 348h2v1h-2zM335 348h2v1h-2zM339 348h2v1h-2zM343 348h2v1h-2zM347 348h2v1h-2zM351 348h2v1h-2zM355 348h2v1h-2zM359 348h2v1h-2zM363 348h2v1h-2zM367 348h2v1h-2zM371 348h2v1h-2zM375 348h2v1h-2zM379 348h2v1h-2zM383 348h2v1h-2zM387 348h2v1h-2zM391 348h2v1h-2zM395 348h2v1h-2zM399 348h2v1h-2zM403 348h2v1h-2zM407 348h2v1h-2zM411 348h2v1h-2zM415 348h2v1h-2zM419 348h2v1h-2zM423 348h2v1h-2zM427 348h2v1h-2zM431 348h2v1h-2zM435 348h2v1h-2zM439 348h2v1h-2zM443 348h2v1h-2zM447 348h2v1h-2zM451 348h2v1h-2zM455 348h2v1h-2zM459 348h2v1h-2zM463 348h2v1h-2zM467 348h2v1h-2zM471 348h2v1h-2zM475 348h2v1h-2zM479 348h2v1h-2zM483 348h2v1h-2zM487 348h2v1h-2zM491 348h2v1h-2zM495 348h2v1h-2zM499 348h2v1h-2zM503 348h2v1h-2zM507 348h2v1h-2zM511 348h2v1h-2zM515 348h2v1h-2zM519 348h2v1h-2zM523 348h2v1h-2zM527 348h2v1h-2zM531 348h2v1h-2zM535 348h2v1h-2zM539 348h2v1h-2zM543 348h2v1h-2zM547 348h2v1h-2zM551 348h2v1h-2zM555 348h2v1h-2zM559 348h2v1h-2zM563 348h2v1h-2zM567 348h2v1h-2zM571 348h2v1h-2zM575 348h2v1h-2zM579 348h2v1h-2zM583 348h2v1h-2zM587 348h2v1h-2zM591 348h2v1h-2zM595 348h2v1h-2zM599 348h2v1h-2zM603 348h2v1h-2zM607 348h2v1h-2zM611 348h2v1h-2zM615 348h2v1h-2zM123 338h1v2h-1zM123 342h1v2h-1zM123 346h1v2h-1zM123 350h1v2h-1zM123 354h1v2h-1zM123 358h1v2h-1zM123 362h1v2h-1zM123 366h1v2h-1zM123 370h1v2h-1zM123 374h1v2h-1zM123 378h1v2h-1zM123 382h1v2h-1zM123 386h1v2h-1zM123 390h1v2h-1zM123 394h1v2h-1zM123 398h1v2h-1zM123 402h1v2h-1zM123 406h1v2h-1zM123 410h1v2h-1zM123 414h1v2h-1zM123 418h1v2h-1zM123 422h1v2h-1zM123 426h1v1h-1zM146 338h1v2h-1zM146 342h1v2h-1zM146 346h1v2h-1zM146 350h1v2h-1zM146 354h1v2h-1zM146 358h1v2h-1zM146 362h1v2h-1zM146 366h1v2h-1zM146 370h1v2h-1zM146 374h1v2h-1zM146 378h1v2h-1zM146 382h1v2h-1zM146 386h1v2h-1zM146 390h1v2h-1zM146 394h1v2h-1zM146 398h1v2h-1zM146 402h1v2h-1zM146 406h1v2h-1zM146 410h1v2h-1zM146 414h1v2h-1zM146 418h1v2h-1zM146 422h1v2h-1zM146 426h1v1h-1zM170 338h1v2h-1zM170 342h1v2h-1zM170 346h1v2h-1zM170 350h1v2h-1zM170 354h1v2h-1zM170 358h1v2h-1zM170 362h1v2h-1zM170 366h1v2h-1zM170 370h1v2h-1zM170 374h1v2h-1zM170 378h1v2h-1zM170 382h1v2h-1zM170 386h1v2h-1zM170 390h1v2h-1zM170 394h1v2h-1zM170 398h1v2h-1zM170 402h1v2h-1zM170 406h1v2h-1zM170 410h1v2h-1zM170 414h1v2h-1zM170 418h1v2h-1zM170 422h1v2h-1zM170 426h1v1h-1zM193 338h1v2h-1zM193 342h1v2h-1zM193 346h1v2h-1zM193 350h1v2h-1zM193 354h1v2h-1zM193 358h1v2h-1zM193 362h1v2h-1zM193 366h1v2h-1zM193 370h1v2h-1zM193 374h1v2h-1zM193 378h1v2h-1zM193 382h1v2h-1zM193 386h1v2h-1zM193 390h1v2h-1zM193 394h1v2h-1zM193 398h1v2h-1zM193 402h1v2h-1zM193 406h1v2h-1zM193 410h1v2h-1zM193 414h1v2h-1zM193 418h1v2h-1zM193 422h1v2h-1zM193 426h1v1h-1zM217 338h1v2h-1zM217 342h1v2h-1zM217 346h1v2h-1zM217 350h1v2h-1zM217 354h1v2h-1zM217 358h1v2h-1zM217 362h1v2h-1zM217 366h1v2h-1zM217 370h1v2h-1zM217 374h1v2h-1zM217 378h1v2h-1zM217 382h1v2h-1zM217 386h1v2h-1zM217 390h1v2h-1zM217 394h1v2h-1zM217 398h1v2h-1zM217 402h1v2h-1zM217 406h1v2h-1zM217 410h1v2h-1zM217 414h1v2h-1zM217 418h1v2h-1zM217 422h1v2h-1zM217 426h1v1h-1zM240 338h1v2h-1zM240 342h1v2h-1zM240 346h1v2h-1zM240 350h1v2h-1zM240 354h1v2h-1zM240 358h1v2h-1zM240 362h1v2h-1zM240 366h1v2h-1zM240 370h1v2h-1zM240 374h1v2h-1zM240 378h1v2h-1zM240 382h1v2h-1zM240 386h1v2h-1zM240 390h1v2h-1zM240 394h1v2h-1zM240 398h1v2h-1zM240 402h1v2h-1zM240 406h1v2h-1zM240 410h1v2h-1zM240 414h1v2h-1zM240 418h1v2h-1zM240 422h1v2h-1zM240 426h1v1h-1zM264 338h1v2h-1zM264 342h1v2h-1zM264 346h1v2h-1zM264 350h1v2h-1zM264 354h1v2h-1zM264 358h1v2h-1zM264 362h1v2h-1zM264 366h1v2h-1zM264 370h1v2h-1zM264 374h1v2h-1zM264 378h1v2h-1zM264 382h1v2h-1zM264 386h1v2h-1zM264 390h1v2h-1zM264 394h1v2h-1zM264 398h1v2h-1zM264 402h1v2h-1zM264 406h1v2h-1zM264 410h1v2h-1zM264 414h1v2h-1zM264 418h1v2h-1zM264 422h1v2h-1zM264 426h1v1h-1zM287 338h1v2h-1zM287 342h1v2h-1zM287 346h1v2h-1zM287 350h1v2h-1zM287 354h1v2h-1zM287 358h1v2h-1zM287 362h1v2h-1zM287 366h1v2h-1zM287 370h1v2h-1zM287 374h1v2h-1zM287 378h1v2h-1zM287 382h1v2h-1zM287 386h1v2h-1zM287 390h1v2h-1zM287 394h1v2h-1zM287 398h1v2h-1zM287 402h1v2h-1zM287 406h1v2h-1zM287 410h1v2h-1zM287 414h1v2h-1zM287 418h1v2h-1zM287 422h1v2h-1zM287 426h1v1h-1zM311 338h1v2h-1zM311 342h1v2h-1zM311 346h1v2h-1zM311 350h1v2h-1zM311 354h1v2h-1zM311 358h1v2h-1zM311 362h1v2h-1zM311 366h1v2h-1zM311 370h1v2h-1zM311 374h1v2h-1zM311 378h1v2h-1zM311 382h1v2h-1zM311 386h1v2h-1zM311 390h1v2h-1zM311 394h1v2h-1zM311 398h1v2h-1zM311 402h1v2h-1zM311 406h1v2h-1zM311 410h1v2h-1zM311 414h1v2h-1zM311 418h1v2h-1zM311 422h1v2h-1zM311 426h1v1h-1zM334 338h1v2h-1zM334 342h1v2h-1zM334 346h1v2h-1zM334 350h1v2h-1zM334 354h1v2h-1zM334 358h1v2h-1zM334 362h1v2h-1zM334 366h1v2h-1zM334 370h1v2h-1zM334 374h1v2h-1zM334 378h1v2h-1zM334 382h1v2h-1zM334 386h1v2h-1zM334 390h1v2h-1zM334 394h1v2h-1zM334 398h1v2h-1zM334 402h1v2h-1zM334 406h1v2h-1zM334 410h1v2h-1zM334 414h1v2h-1zM334 418h1v2h-1zM334 422h1v2h-1zM334 426h1v1h-1zM358 338h1v2h-1zM358 342h1v2h-1zM358 346h1v2h-1zM358 350h1v2h-1zM358 354h1v2h-1zM358 358h1v2h-1zM358 362h1v2h-1zM358 366h1v2h-1zM358 370h1v2h-1zM358 374h1v2h-1zM358 378h1v2h-1zM358 382h1v2h-1zM358 386h1v2h-1zM358 390h1v2h-1zM358 394h1v2h-1zM358 398h1v2h-1zM358 402h1v2h-1zM358 406h1v2h-1zM358 410h1v2h-1zM358 414h1v2h-1zM358 418h1v2h-1zM358 422h1v2h-1zM358 426h1v1h-1zM382 338h1v2h-1zM382 342h1v2h-1zM382 346h1v2h-1zM382 350h1v2h-1zM382 354h1v2h-1zM382 358h1v2h-1zM382 362h1v2h-1zM382 366h1v2h-1zM382 370h1v2h-1zM382 374h1v2h-1zM382 378h1v2h-1zM382 382h1v2h-1zM382 386h1v2h-1zM382 390h1v2h-1zM382 394h1v2h-1zM382 398h1v2h-1zM382 402h1v2h-1zM382 406h1v2h-1zM382 410h1v2h-1zM382 414h1v2h-1zM382 418h1v2h-1zM382 422h1v2h-1zM382 426h1v1h-1zM405 338h1v2h-1zM405 342h1v2h-1zM405 346h1v2h-1zM405 350h1v2h-1zM405 354h1v2h-1zM405 358h1v2h-1zM405 362h1v2h-1zM405 366h1v2h-1zM405 370h1v2h-1zM405 374h1v2h-1zM405 378h1v2h-1zM405 382h1v2h-1zM405 386h1v2h-1zM405 390h1v2h-1zM405 394h1v2h-1zM405 398h1v2h-1zM405 402h1v2h-1zM405 406h1v2h-1zM405 410h1v2h-1zM405 414h1v2h-1zM405 418h1v2h-1zM405 422h1v2h-1zM405 426h1v1h-1zM429 338h1v2h-1zM429 342h1v2h-1zM429 346h1v2h-1zM429 350h1v2h-1zM429 354h1v2h-1zM429 358h1v2h-1zM429 362h1v2h-1zM429 366h1v2h-1zM429 370h1v2h-1zM429 374h1v2h-1zM429 378h1v2h-1zM429 382h1v2h-1zM429 386h1v2h-1zM429 390h1v2h-1zM429 394h1v2h-1zM429 398h1v2h-1zM429 402h1v2h-1zM429 406h1v2h-1zM429 410h1v2h-1zM429 414h1v2h-1zM429 418h1v2h-1zM429 422h1v2h-1zM429 426h1v1h-1zM452 338h1v2h-1zM452 342h1v2h-1zM452 346h1v2h-1zM452 350h1v2h-1zM452 354h1v2h-1zM452 358h1v2h-1zM452 362h1v2h-1zM452 366h1v2h-1zM452 370h1v2h-1zM452 374h1v2h-1zM452 378h1v2h-1zM452 382h1v2h-1zM452 386h1v2h-1zM452 390h1v2h-1zM452 394h1v2h-1zM452 398h1v2h-1zM452 402h1v2h-1zM452 406h1v2h-1zM452 410h1v2h-1zM452 414h1v2h-1zM452 418h1v2h-1zM452 422h1v2h-1zM452 426h1v1h-1zM476 338h1v2h-1zM476 342h1v2h-1zM476 346h1v2h-1zM476 350h1v2h-1zM476 354h1v2h-1zM476 358h1v2h-1zM476 362h1v2h-1zM476 366h1v2h-1zM476 370h1v2h-1zM476 374h1v2h-1zM476 378h1v2h-1zM476 382h1v2h-1zM476 386h1v2h-1zM476 390h1v2h-1zM476 394h1v2h-1zM476 398h1v2h-1zM476 402h1v2h-1zM476 406h1v2h-1zM476 410h1v2h-1zM476 414h1v2h-1zM476 418h1v2h-1zM476 422h1v2h-1zM476 426h1v1h-1zM499 338h1v2h-1zM499 342h1v2h-1zM499 346h1v2h-1zM499 350h1v2h-1zM499 354h1v2h-1zM499 358h1v2h-1zM499 362h1v2h-1zM499 366h1v2h-1zM499 370h1v2h-1zM499 374h1v2h-1zM499 378h1v2h-1zM499 382h1v2h-1zM499 386h1v2h-1zM499 390h1v2h-1zM499 394h1v2h-1zM499 398h1v2h-1zM499 402h1v2h-1zM499 406h1v2h-1zM499 410h1v2h-1zM499 414h1v2h-1zM499 418h1v2h-1zM499 422h1v2h-1zM499 426h1v1h-1zM523 338h1v2h-1zM523 342h1v2h-1zM523 346h1v2h-1zM523 350h1v2h-1zM523 354h1v2h-1zM523 358h1v2h-1zM523 362h1v2h-1zM523 366h1v2h-1zM523 370h1v2h-1zM523 374h1v2h-1zM523 378h1v2h-1zM523 382h1v2h-1zM523 386h1v2h-1zM523 390h1v2h-1zM523 394h1v2h-1zM523 398h1v2h-1zM523 402h1v2h-1zM523 406h1v2h-1zM523 410h1v2h-1zM523 414h1v2h-1zM523 418h1v2h-1zM523 422h1v2h-1zM523 426h1v1h-1zM546 338h1v2h-1zM546 342h1v2h-1zM546 346h1v2h-1zM546 350h1v2h-1zM546 354h1v2h-1zM546 358h1v2h-1zM546 362h1v2h-1zM546 366h1v2h-1zM546 370h1v2h-1zM546 374h1v2h-1zM546 378h1v2h-1zM546 382h1v2h-1zM546 386h1v2h-1zM546 390h1v2h-1zM546 394h1v2h-1zM546 398h1v2h-1zM546 402h1v2h-1zM546 406h1v2h-1zM546 410h1v2h-1zM546 414h1v2h-1zM546 418h1v2h-1zM546 422h1v2h-1zM546 426h1v1h-1zM570 338h1v2h-1zM570 342h1v2h-1zM570 346h1v2h-1zM570 350h1v2h-1zM570 354h1v2h-1zM570 358h1v2h-1zM570 362h1v2h-1zM570 366h1v2h-1zM570 370h1v2h-1zM570 374h1v2h-1zM570 378h1v2h-1zM570 382h1v2h-1zM570 386h1v2h-1zM570 390h1v2h-1zM570 394h1v2h-1zM570 398h1v2h-1zM570 402h1v2h-1zM570 406h1v2h-1zM570 410h1v2h-1zM570 414h1v2h-1zM570 418h1v2h-1zM570 422h1v2h-1zM570 426h1v1h-1zM593 338h1v2h-1zM593 342h1v2h-1zM593 346h1v2h-1zM593 350h1v2h-1zM593 354h1v2h-1zM593 358h1v2h-1zM593 362h1v2h-1zM593 366h1v2h-1zM593 370h1v2h-1zM593 374h1v2h-1zM593 378h1v2h-1zM593 382h1v2h-1zM593 386h1v2h-1zM593 390h1v2h-1zM593 394h1v2h-1zM593 398h1v2h-1zM593 402h1v2h-1zM593 406h1v2h-1zM593 410h1v2h-1zM593 414h1v2h-1zM593 418h1v2h-1zM593 422h1v2h-1zM593 426h1v1h-1z"/>
<path fill="#82acd9" d="M100 108h4v1h-4zM613 108h4v1h-4zM100 165h4v1h-4zM613 165h4v1h-4zM100 221h4v1h-4zM613 221h4v1h-4zM100 278h4v1h-4zM613 278h4v1h-4zM100 414h4v1h-4zM613 414h4v1h-4zM100 401h4v1h-4zM613 401h4v1h-4zM100 388h4v1h-4zM613 388h4v1h-4zM100 374h4v1h-4zM613 374h4v1h-4zM100 361h4v1h-4zM613 361h4v1h-4zM100 348h4v1h-4zM613 348h4v1h-4zM111 52h1v2h-1zM111 333h1v2h-1zM123 52h1v2h-1zM123 333h1v2h-1zM134 52h1v2h-1zM134 333h1v2h-1zM146 52h1v4h-1zM146 331h1v4h-1zM158 52h1v2h-1zM158 333h1v2h-1zM170 52h1v2h-1zM170 333h1v2h-1zM181 52h1v2h-1zM181 333h1v2h-1zM193 52h1v4h-1zM193 331h1v4h-1zM205 52h1v2h-1zM205 333h1v2h-1zM217 52h1v2h-1zM217 333h1v2h-1zM229 52h1v2h-1zM229 333h1v2h-1zM240 52h1v4h-1zM240 331h1v4h-1zM252 52h1v2h-1zM252 333h1v2h-1zM264 52h1v2h-1zM264 333h1v2h-1zM276 52h1v2h-1zM276 333h1v2h-1zM287 52h1v4h-1zM287 331h1v4h-1zM299 52h1v2h-1zM299 333h1v2h-1zM311 52h1v2h-1zM311 333h1v2h-1zM323 52h1v2h-1zM323 333h1v2h-1zM334 52h1v4h-1zM334 331h1v4h-1zM346 52h1v2h-1zM346 333h1v2h-1zM358 52h1v2h-1zM358 333h1v2h-1zM370 52h1v2h-1zM370 333h1v2h-1zM382 52h1v4h-1zM382 331h1v4h-1zM393 52h1v2h-1zM393 333h1v2h-1zM405 52h1v2h-1zM405 333h1v2h-1zM417 52h1v2h-1zM417 333h1v2h-1zM429 52h1v4h-1zM429 331h1v4h-1zM440 52h1v2h-1zM440 333h1v2h-1zM452 52h1v2h-1zM452 333h1v2h-1zM464 52h1v2h-1zM464 333h1v2h-1zM476 52h1v4h-1zM476 331h1v4h-1zM488 52h1v2h-1zM488 333h1v2h-1zM499 52h1v2h-1zM499 333h1v2h-1zM511 52h1v2h-1zM511 333h1v2h-1zM523 52h1v4h-1zM523 331h1v4h-1zM535 52h1v2h-1zM535 333h1v2h-1zM546 52h1v2h-1zM546 333h1v2h-1zM558 52h1v2h-1zM558 333h1v2h-1zM570 52h1v4h-1zM570 331h1v4h-1zM582 52h1v2h-1zM582 333h1v2h-1zM593 52h1v2h-1zM593 333h1v2h-1zM605 52h1v2h-1zM605 333h1v2h-1zM105 425h1v2h-1zM111 425h1v2h-1zM117 425h1v2h-1zM123 423h1v4h-1zM128 425h1v2h-1zM134 425h1v2h-1zM140 425h1v2h-1zM146 423h1v4h-1zM152 425h1v2h-1zM158 425h1v2h-1zM164 425h1v2h-1zM170 423h1v4h-1zM176 425h1v2h-1zM181 425h1v2h-1zM187 425h1v2h-1zM193 423h1v4h-1zM199 425h1v2h-1zM205 425h1v2h-1zM211 425h1v2h-1zM217 423h1v4h-1zM223 425h1v2h-1zM229 425h1v2h-1zM234 425h1v2h-1zM240 423h1v4h-1zM246 425h1v2h-1zM252 425h1v2h-1zM258 425h1v2h-1zM264 423h1v4h-1zM270 425h1v2h-1zM276 425h1v2h-1zM281 425h1v2h-1zM287 423h1v4h-1zM293 425h1v2h-1zM299 425h1v2h-1zM305 425h1v2h-1zM311 423h1v4h-1zM317 425h1v2h-1zM323 425h1v2h-1zM329 425h1v2h-1zM334 423h1v4h-1zM340 425h1v2h-1zM346 425h1v2h-1zM352 425h1v2h-1zM358 423h1v4h-1zM364 425h1v2h-1zM370 425h1v2h-1zM376 425h1v2h-1zM382 423h1v4h-1zM387 425h1v2h-1zM393 425h1v2h-1zM399 425h1v2h-1zM405 423h1v4h-1zM411 425h1v2h-1zM417 425h1v2h-1zM423 425h1v2h-1zM429 423h1v4h-1zM435 425h1v2h-1zM440 425h1v2h-1zM446 425h1v2h-1zM452 423h1v4h-1zM458 425h1v2h-1zM464 425h1v2h-1zM470 425h1v2h-1zM476 423h1v4h-1zM482 425h1v2h-1zM488 425h1v2h-1zM493 425h1v2h-1zM499 423h1v4h-1zM505 425h1v2h-1zM511 425h1v2h-1zM517 425h1v2h-1zM523 423h1v4h-1zM529 425h1v2h-1zM535 425h1v2h-1zM540 425h1v2h-1zM546 423h1v4h-1zM552 425h1v2h-1zM558 425h1v2h-1zM564 425h1v2h-1zM570 423h1v4h-1zM576 425h1v2h-1zM582 425h1v2h-1zM588 425h1v2h-1zM593 423h1v4h-1zM599 425h1v2h-1zM605 425h1v2h-1zM611 425h1v2h-1z"/>
<path fill="#ff0000" d="M100 165h8v23h-8zM123 165h1v35h-1zM114 165h19v18h-19zM146 159h1v52h-1zM138 187h17v24h-17zM264 186h1v19h-1zM256 193h17v12h-17zM373 170h19v35h-19zM405 182h1v40h-1zM397 199h17v12h-17zM429 193h1v46h-1zM420 216h19v23h-19zM570 165h1v52h-1zM562 182h17v19h-17zM594 182h1v29h-1zM585 193h19v7h-19zM123 400h1v27h-1zM146 370h1v57h-1zM264 417h1v10h-1zM382 417h1v10h-1zM405 403h1v24h-1zM429 394h1v33h-1zM570 381h1v46h-1zM593 408h1v19h-1z"/>
<path fill="#00ff00" d="M217 179h1v32h-1zM209 193h17v18h-17zM240 182h1v29h-1zM232 193h17v18h-17zM288 176h1v52h-1zM279 187h19v13h-19zM311 176h1v18h-1zM303 182h17v6h-17zM452 210h1v29h-1zM444 221h17v13h-17zM476 170h1v58h-1zM468 187h17v41h-17zM547 170h1v18h-1zM538 170h19v13h-19zM217 402h1v25h-1zM240 406h1v21h-1zM287 346h1v81h-1zM311 415h1v12h-1zM452 406h1v21h-1zM476 398h1v29h-1zM546 414h1v13h-1z"/>
<path fill="#82acd9" d="M99 51h519v1h-519zM99 335h519v1h-519zM99 427h519v1h-519zM99 51h1v377h-1zM617 51h1v377h-1z"/>
<path fill="#ffff00" d="M272 25h5v1h-5z"/>
</g>
<g>
<text x="224.5" y="31" textLength="41" lengthAdjust="spacingAndGlyphs" fill="#ffff00" class="t">USIO</text>
<text x="284" y="31" textLength="29" lengthAdjust="spacingAndGlyphs" fill="#ffff00" class="t">last</text>
<text x="318" y="31" textLength="68" lengthAdjust="spacingAndGlyphs" fill="#ffff00" class="t">updated</text>
<text x="390.5" y="31" textLength="97" lengthAdjust="spacingAndGlyphs" fill="#ffff00" class="t">08/10/2025</text>
<text x="86.5" y="56" text-anchor="end" fill="#82acd9" class="t">1.7</text>
<text x="86.5" y="113" text-anchor="end" fill="#82acd9" class="t">1.6</text>
<text x="86.5" y="170" text-anchor="end" fill="#82acd9" class="t">1.5</text>
<text x="86.5" y="226" text-anchor="end" fill="#82acd9" class="t">1.4</text>
<text x="86.5" y="283" text-anchor="end" fill="#82acd9" class="t">1.3</text>
<text x="87" y="432" text-anchor="end" fill="#82acd9" class="t">0</text>
<text x="87" y="419" text-anchor="end" fill="#82acd9" class="t">5</text>
<text x="67.65 78.33" y="406" fill="#82acd9" class="t">10</text>
<text x="67.65 78.33" y="393" fill="#82acd9" class="t">15</text>
<text x="67.65 78.33" y="379" fill="#82acd9" class="t">20</text>
<text x="67.65 78.33" y="366" fill="#82acd9" class="t">25</text>
<text x="67.65 78.33" y="353" fill="#82acd9" class="t">30</text>
<text x="67.65 78.33" y="340" fill="#82acd9" class="t">35</text>
<text transform="translate(42,192) rotate(-90)" text-anchor="middle" fill="#82acd9" class="t">Price</text>
<text transform="translate(53,442.5) rotate(-90)" textLength="121" lengthAdjust="spacingAndGlyphs" fill="#82acd9" class="t">Volume (0000)</text>
<text x="348" y="472" text-anchor="middle" fill="#000000" class="t">Day</text>
<text transform="translate(102.00,441.5) rotate(-45) scale(1.0)" text-anchor="end" fill="#82acd9" class="t">17</text>
<text transform="translate(125.55,441.5) rotate(-45) scale(1.0)" text-anchor="end" fill="#82acd9" class="t">18</text>
<text transform="translate(149.09,441.5) rotate(-45) scale(1.0)" text-anchor="end" fill="#82acd9" class="t">19</text>
<text transform="translate(172.64,441.5) rotate(-45) scale(1.0)" text-anchor="end" fill="#82acd9" class="t">20</text>
<text transform="translate(196.18,441.5) rotate(-45) scale(1.0)" text-anchor="end" fill="#82acd9" class="t">21</text>
<text transform="translate(219.73,441.5) rotate(-45) scale(1.0)" text-anchor="end" fill="#82acd9" class="t">22</text>
<text transform="translate(243.27,441.5) rotate(-45) scale(1.0)" text-anchor="end" fill="#82acd9" class="t">23</text>
<text transform="translate(266.82,441.5) rotate(-45) scale(1.0)" text-anchor="end" fill="#82acd9" class="t">24</text>
<text transform="translate(290.36,441.5) rotate(-45) scale(1.0)" text-anchor="end" fill="#82acd9" class="t">25</text>
<text transform="translate(313.91,441.5) rotate(-45) scale(1.0)" text-anchor="end" fill="#82acd9" class="t">26</text>
<text transform="translate(337.45,441.5) rotate(-45) scale(1.0)" text-anchor="end" fill="#82acd9" class="t">27</text>
<text transform="translate(361.00,441.5) rotate(-45) scale(1.0)" text-anchor="end" fill="#82acd9" class="t">28</text>
<text transform="translate(384.55,441.5) rotate(-45) scale(1.0)" text-anchor="end" fill="#82acd9" class="t">29</text>
<text transform="translate(408.09,441.5) rotate(-45) scale(1.0)" text-anchor="end" fill="#82acd9" class="t">30</text>
<text transform="translate(431.64,441.5) rotate(-45) scale(1.0)" text-anchor="end" fill="#82acd9" class="t">01</text>
<text transform="translate(455.18,441.5) rotate(-45) scale(1.0)" text-anchor="end" fill="#82acd9" class="t">02</text>
<text transform="translate(478.73,441.5) rotate(-45) scale(1.0)" text-anchor="end" fill="#82acd9" class="t">03</text>
<text transform="translate(502.27,441.5) rotate(-45) scale(1.0)" text-anchor="end" fill="#82acd9" class="t">04</text>
<text transform="translate(525.82,441.5) rotate(-45) scale(1.0)" text-anchor="end" fill="#82acd9" class="t">05</text>
<text transform="translate(549.36,441.5) rotate(-45) scale(1.0)" text-anchor="end" fill="#82acd9" class="t">06</text>
<text transform="translate(572.91,441.5) rotate(-45) scale(1.0)" text-anchor="end" fill="#82acd9" class="t">07</text>
<text transform="translate(596.45,441.5) rotate(-45) scale(1.0)" text-anchor="end" fill="#82acd9" class="t">08</text>
<text transform="translate(620.00,441.5) rotate(-45) scale(1.0)" text-anchor="end" fill="#82acd9" class="t">09</text>
</g>
</svg>
</body></html>
